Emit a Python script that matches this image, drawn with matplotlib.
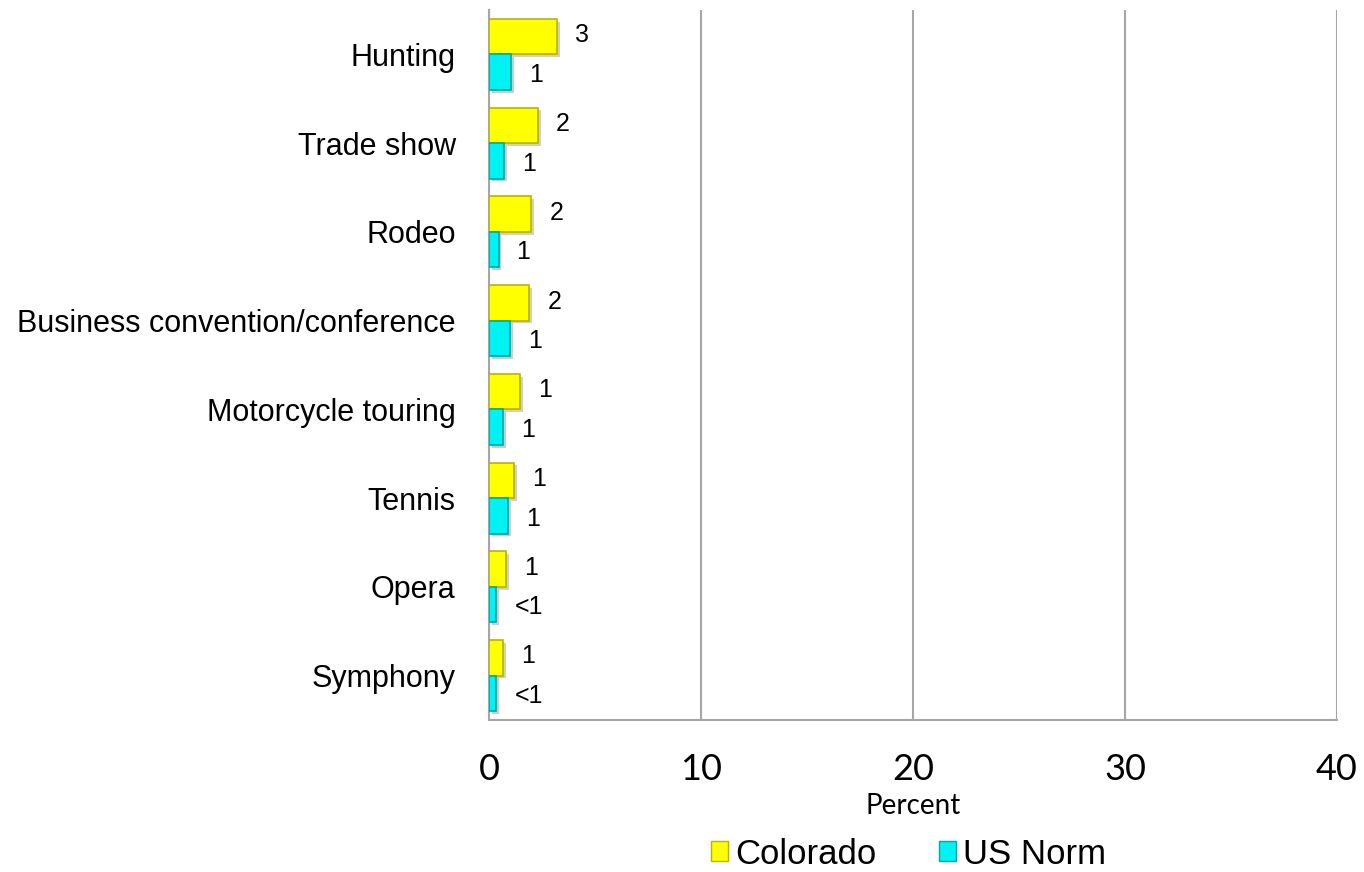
import matplotlib

matplotlib.use("Agg")
import matplotlib.pyplot as plt  # noqa: E402
import matplotlib.patheffects as pe  # noqa: E402
import numpy as np  # noqa: E402
from matplotlib.patches import Patch  # noqa: E402

categories = [
    "Hunting",
    "Trade show",
    "Rodeo",
    "Business convention/conference",
    "Motorcycle touring",
    "Tennis",
    "Opera",
    "Symphony",
]
colorado = [3.2, 2.3, 2.0, 1.9, 1.45, 1.2, 0.8, 0.65]
us_norm = [1.05, 0.7, 0.45, 1.0, 0.65, 0.9, 0.35, 0.35]
colorado_labels = ["3", "2", "2", "2", "1", "1", "1", "1"]
us_labels = ["1", "1", "1", "1", "1", "1", "<1", "<1"]
x_ticks = [0, 10, 20, 30, 40]

ARIAL = "Liberation Sans"
CALIBRI = "Lato"
GRID = "#a6a6a6"

fig = plt.figure(figsize=(13.64, 8.72), dpi=100)
ax = fig.add_axes([0.3585, 0.1743, 0.6217, 0.8142])

y = np.arange(len(categories))
h = 0.4
shadow = [pe.withSimplePatchShadow(offset=(2, -2), alpha=0.25)]
bars_co = ax.barh(y - h / 2, colorado, height=h, color="#ffff00",
                  edgecolor="#b5b500", linewidth=1.2, zorder=3)
bars_us = ax.barh(y + h / 2, us_norm, height=h, color="#00f2f2",
                  edgecolor="#00a8a8", linewidth=1.2, zorder=3)
for b in list(bars_co) + list(bars_us):
    b.set_path_effects(shadow)

for yi, v, t in zip(y - h / 2, colorado, colorado_labels):
    ax.annotate(t, (v, yi), xytext=(13, 1), textcoords="offset points",
                ha="left", va="center", fontsize=18, family=ARIAL)
for yi, v, t in zip(y + h / 2, us_norm, us_labels):
    ax.annotate(t, (v, yi), xytext=(13, -2), textcoords="offset points",
                ha="left", va="center", fontsize=18, family=ARIAL)

ax.set_xlim(0, 40)
ax.set_ylim(len(categories) - 0.5, -0.5)
ax.set_yticks(y)
ax.set_yticklabels(categories, fontsize=22, family=ARIAL)
ax.set_xticks(x_ticks)
ax.set_xticklabels([str(t) for t in x_ticks], fontsize=26, family=CALIBRI)
ax.tick_params(axis="both", length=0)
ax.tick_params(axis="y", pad=24)
ax.tick_params(axis="x", pad=24)

ax.grid(axis="x", color=GRID, lw=1.5, zorder=0)
for s in ["top", "right"]:
    ax.spines[s].set_visible(False)
for s in ["left", "bottom"]:
    ax.spines[s].set_color(GRID)
    ax.spines[s].set_linewidth(1.5)

fig.text(0.6694, 1 - 806 / 872, "Percent", ha="center", va="center",
         fontsize=20, family=CALIBRI)

handles = [
    Patch(facecolor="#ffff00", edgecolor="#b5b500", label="Colorado"),
    Patch(facecolor="#00f2f2", edgecolor="#00a8a8", label="US Norm"),
]
fig.legend(handles=handles, loc="center", bbox_to_anchor=(0.666, 1 - 854 / 872),
           ncol=2, frameon=False, prop={"family": ARIAL, "size": 25},
           handlelength=0.5, handleheight=0.5, handletextpad=0.2,
           columnspacing=1.8)

fig.savefig("out.png", dpi=100)
